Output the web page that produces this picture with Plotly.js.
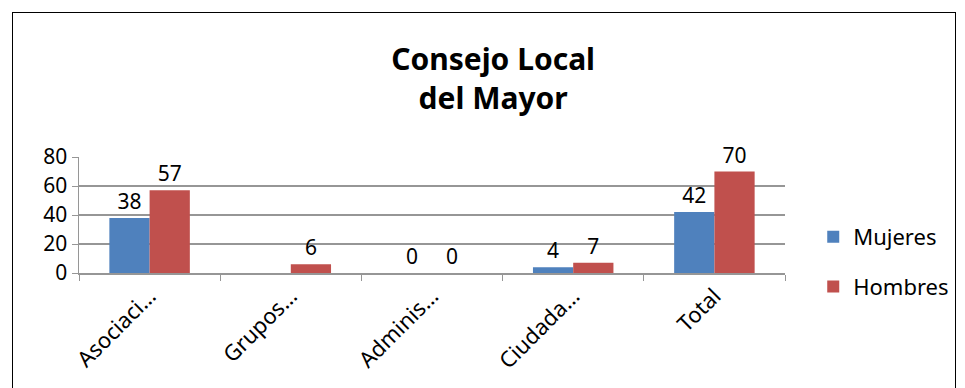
<!DOCTYPE html>
<html>
<head>
<meta charset="utf-8">
<script src="https://cdn.plot.ly/plotly-3.0.1.min.js"></script>
<style>
  html, body { margin: 0; padding: 0; background: #ffffff; }
  #wrap { position: relative; width: 965px; height: 388px; }
  #chart { width: 965px; height: 388px; }
  #frame { position: absolute; left: 12px; top: 12px; width: 944px; height: 380px;
           border: 1px solid #000000; pointer-events: none; box-sizing: border-box; }
</style>
</head>
<body>
<div id="wrap">
  <div id="chart"></div>
  <div id="frame"></div>
</div>
<script>
const categories = ["Asociaci…", "Grupos…", "Adminis…", "Ciudada…", "Total"];
const mujeres = [38, null, 0, 4, 42];
const hombres = [57, 6, 0, 7, 70];
const seriesNames = ["Mujeres", "Hombres"];
const yTicks = [0, 20, 40, 60, 80];

const font = "Noto Sans, Open Sans, sans-serif";

function labels(arr) { return arr.map(v => (v === null ? "" : String(v))); }

const traces = [
  {
    type: "bar", name: seriesNames[0], x: categories, y: mujeres,
    text: labels(mujeres), textposition: "outside", cliponaxis: false,
    textfont: { family: font, size: 21, color: "#000000" },
    marker: { color: "#4F81BD" }, legendgroup: "a", hoverinfo: "x+y"
  },
  {
    type: "bar", name: seriesNames[1], x: categories, y: hombres,
    text: labels(hombres), textposition: "outside", cliponaxis: false,
    textfont: { family: font, size: 21, color: "#000000" },
    marker: { color: "#C0504D" }, legendgroup: "b", hoverinfo: "x+y"
  }
];

const layout = {
  width: 965, height: 388,
  margin: { l: 79, r: 180, t: 157, b: 115, autoexpand: false },
  paper_bgcolor: "#ffffff", plot_bgcolor: "#ffffff",
  barmode: "group", bargap: 0.43, bargroupgap: 0,
  title: {
    text: "<b>Consejo Local<br>del Mayor</b>",
    font: { family: font, size: 30, color: "#000000" },
    x: 0.511, xanchor: "center", xref: "container",
    y: 0.82, yanchor: "middle", yref: "container"
  },
  xaxis: {
    type: "category", tickson: "boundaries", ticks: "outside", ticklen: 6,
    tickcolor: "#969696", showline: true, linecolor: "#969696", linewidth: 1.5,
    showgrid: false, tickangle: -45,
    tickfont: { family: font, size: 22, color: "#000000" }
  },
  yaxis: {
    range: [0, 80], tickvals: yTicks, ticks: "outside", ticklen: 6,
    tickcolor: "#969696", showline: true, linecolor: "#969696", linewidth: 1.5,
    showgrid: true, gridcolor: "#969696", gridwidth: 1.5, zeroline: false,
    tickfont: { family: font, size: 21, color: "#000000" }
  },
  showlegend: true,
  legend: {
    x: 1.04, xanchor: "left", y: 0.095, yanchor: "middle",
    traceorder: "grouped", tracegroupgap: 18,
    font: { family: font, size: 22, color: "#000000" },
    bgcolor: "rgba(0,0,0,0)"
  }
};

Plotly.newPlot("chart", traces, layout, { displayModeBar: false, staticPlot: true });
</script>
</body>
</html>
